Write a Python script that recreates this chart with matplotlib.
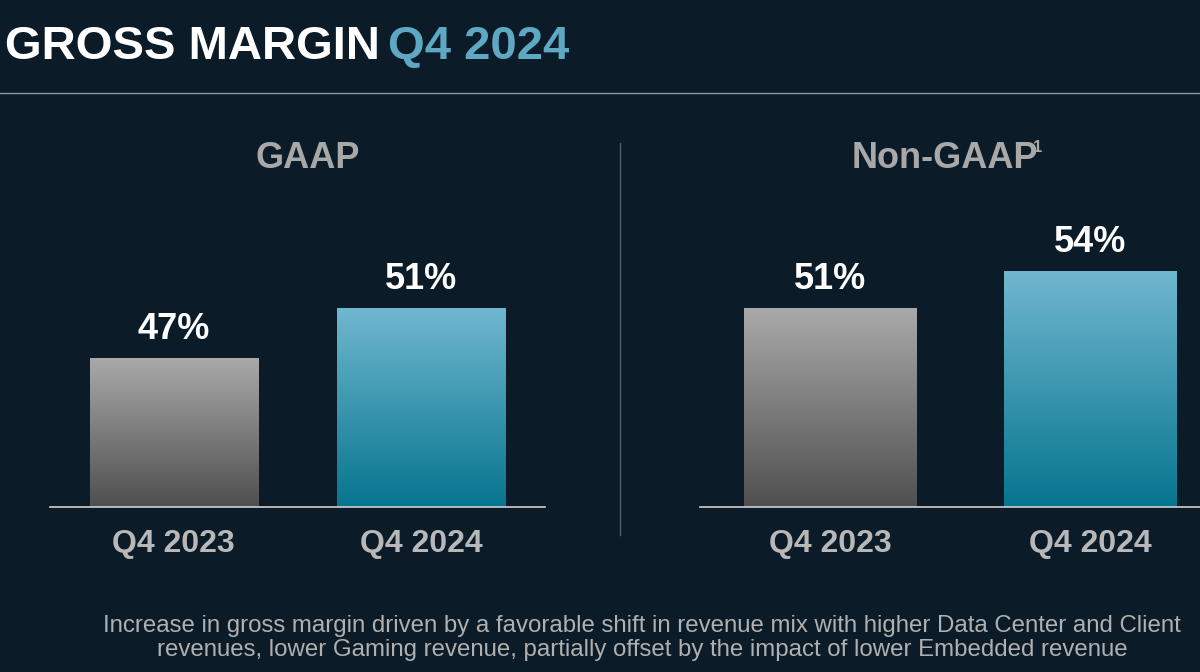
import matplotlib
matplotlib.use('Agg')
import matplotlib.pyplot as plt
import numpy as np
from matplotlib.colors import LinearSegmentedColormap

plt.rcParams['font.family'] = ['Liberation Sans', 'DejaVu Sans']
BG = '#0b1c28'
W, H = 1200, 672

panels = {
    'GAAP': [47, 51],
    'Non-GAAP': [51, 54],
}
periods = ['Q4 2023', 'Q4 2024']
gray_cm = LinearSegmentedColormap.from_list('g', ['#4f4f4f', '#a9a9a9'])
teal_cm = LinearSegmentedColormap.from_list('t', ['#06758f', '#70b7cf'])

fig = plt.figure(figsize=(12, 6.72), dpi=100, facecolor=BG)

# title
fig.text(5 / W, 1 - 47 / H, 'GROSS MARGIN', color='white', fontsize=34, fontweight='bold', va='center')
fig.text(388 / W, 1 - 47 / H, 'Q4 2024', color='#5fa8c4', fontsize=34, fontweight='bold', va='center')
fig.add_artist(plt.Line2D([0, 1], [1 - 93 / H, 1 - 93 / H], color='#8a949b', lw=1))
fig.add_artist(plt.Line2D([620 / W, 620 / W], [1 - 143 / H, 1 - 535 / H], color='#55616a', lw=1))

ymin, ymax = 35, 60
ax_h = (ymax - ymin) * 12.4 / H
specs = [('GAAP', 50, 495, 0.68, 308), ('Non-GAAP', 700, 520, 0.665, 945)]
for name, left, width, bw, cx in specs:
    ax = fig.add_axes([left / W, 1 - 507 / H, width / W, ax_h])
    ax.set_facecolor(BG)
    ax.set_xlim(-0.5, 1.5)
    ax.set_ylim(ymin, ymax)
    vals = panels[name]
    for i, v in enumerate(vals):
        cm = gray_cm if i == 0 else teal_cm
        grad = np.linspace(0, 1, 256).reshape(-1, 1)
        ax.imshow(grad, cmap=cm, origin='lower', aspect='auto',
                  extent=[i - bw / 2, i + bw / 2, ymin, v], zorder=2)
        ax.text(i, v + 0.9, '%d%%' % v, color='white', fontsize=26, fontweight='bold',
                ha='center', va='bottom')
    for s in ['top', 'right', 'left']:
        ax.spines[s].set_visible(False)
    ax.spines['bottom'].set_color('#d0d0d0')
    ax.spines['bottom'].set_linewidth(1.2)
    ax.set_yticks([])
    ax.set_xticks([0, 1])
    ax.set_xticklabels(periods, color='#b8b8b8', fontsize=23, fontweight='bold')
    ax.tick_params(axis='x', length=0, pad=16)
    if name == 'GAAP':
        fig.text(cx / W, 1 - 158 / H, 'GAAP', color='#a8a8a8', fontsize=26, fontweight='bold',
                 ha='center', va='center')
    else:
        fig.text(cx / W, 1 - 158 / H, 'Non-GAAP', color='#a8a8a8', fontsize=26, fontweight='bold',
                 ha='center', va='center')
        fig.text(1033 / W, 1 - 148 / H, '1', color='#a8a8a8', fontsize=12, fontweight='bold',
                 ha='left', va='center')

fig.text(642 / W, 1 - 638 / H,
         'Increase in gross margin driven by a favorable shift in revenue mix with higher Data Center and Client\n'
         'revenues, lower Gaming revenue, partially offset by the impact of lower Embedded revenue',
         color='#b0b0b0', fontsize=17.3, ha='center', va='center', linespacing=1.15)

fig.savefig('out.png', dpi=100, facecolor=BG)
